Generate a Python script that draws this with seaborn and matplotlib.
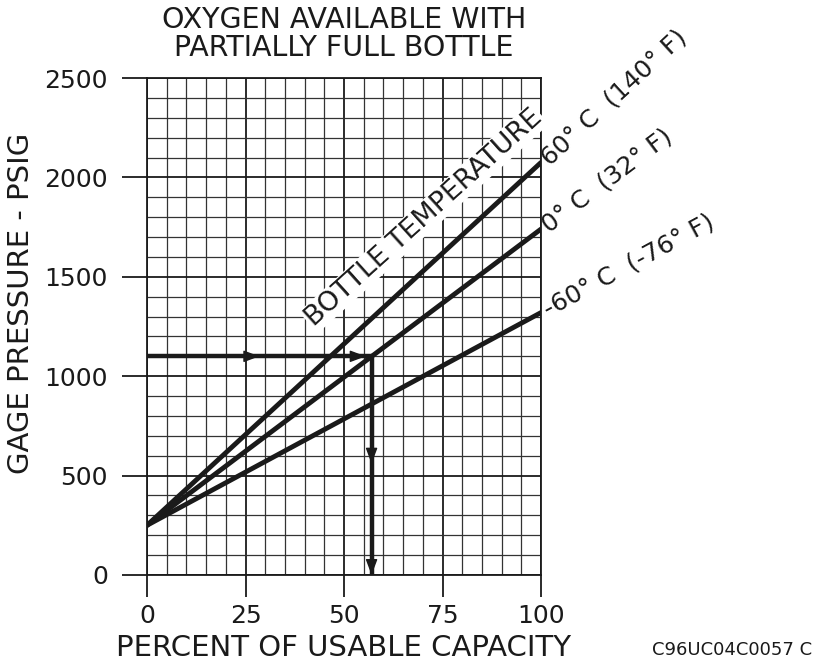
import numpy as np
import pandas as pd
import matplotlib
matplotlib.use("Agg")
import matplotlib.pyplot as plt
import seaborn as sns

# Oxygen bottle chart: gauge pressure vs usable capacity per bottle temperature
pct = [0, 100]
temps = ["60° C  (140° F)", "0° C  (32° F)", "-60° C  (-76° F)"]
psig_start = [250, 250, 250]
psig_end = [2075, 1740, 1320]

# worked example (1100 psig at 0 °C -> ~57 %)
ex_pct = [0, 57, 57]
ex_psig = [1100, 1100, 0]
head_pct = [28.5, 55.5, 57, 57]
head_psig = [1100, 1100, 560, 0]
head_dir = ["right", "right", "down", "down"]

x_ticks = [0, 25, 50, 75, 100]
y_ticks = [0, 500, 1000, 1500, 2000, 2500]

ink = "#1a1a1a"

sns.set_theme(style="ticks")
plt.rcParams["font.family"] = ["DejaVu Sans"]
plt.rcParams["text.color"] = ink
plt.rcParams["axes.labelcolor"] = ink

rows = []
for name, y0, y1 in zip(temps, psig_start, psig_end):
    rows.append({"temp": name, "pct": pct[0], "psig": y0})
    rows.append({"temp": name, "pct": pct[1], "psig": y1})
df = pd.DataFrame(rows)

fig = plt.figure(figsize=(8.16, 6.68), dpi=100)
ax = fig.add_axes([147 / 816, 93 / 668, 394 / 816, 497 / 668])

ax.set_xlim(0, 100)
ax.set_ylim(0, 2500)
ax.set_xticks(x_ticks)
ax.set_yticks(y_ticks)
ax.set_xticks(np.arange(0, 101, 5), minor=True)
ax.set_yticks(np.arange(0, 2501, 100), minor=True)
ax.grid(which="major", color=ink, linewidth=1.3)
ax.grid(which="minor", color="#333333", linewidth=0.9)
ax.set_axisbelow(True)
ax.tick_params(axis="x", which="major", length=16, width=1.3, color=ink, pad=5, labelsize=18, labelcolor=ink)
ax.tick_params(axis="y", which="major", length=18, width=1.3, color=ink, pad=10, labelsize=18, labelcolor=ink)
ax.tick_params(which="minor", length=0)
for s in ax.spines.values():
    s.set_color(ink)
    s.set_linewidth(1.3)

sns.lineplot(data=df, x="pct", y="psig", hue="temp", palette=[ink] * 3,
             linewidth=3.5, legend=False, ax=ax)

# example path with arrowheads
ax.plot(ex_pct, ex_psig, color=ink, linewidth=3.2, solid_joinstyle="miter")
for hx, hy, d in zip(head_pct, head_psig, head_dir):
    off = (-9, 0) if d == "right" else (0, 9)
    ax.annotate("", xy=(hx, hy), xytext=off, textcoords="offset points",
                arrowprops=dict(arrowstyle="-|>,head_length=0.8,head_width=0.3",
                                color=ink, lw=1, shrinkA=0, shrinkB=0),
                annotation_clip=False)

# temperature labels along each line
rots = []
for name, y0, y1 in zip(temps, psig_start, psig_end):
    ang = np.degrees(np.arctan2(y1 - y0, pct[1] - pct[0]))
    rot = ax.transData.transform_angles(np.array([ang]), np.array([[pct[1], y1]]))[0]
    rots.append(rot)
    ax.annotate(name, xy=(pct[1], y1), xytext=(3, 1), textcoords="offset points",
                rotation=rot, rotation_mode="anchor", ha="left", va="center",
                fontsize=18, annotation_clip=False)

ax.text(70.3, 1796, "BOTTLE TEMPERATURE", rotation=rots[0] - 0.5, rotation_mode="anchor",
        ha="center", va="center", fontsize=19.5,
        bbox=dict(facecolor="white", edgecolor="none", pad=1.0))

ax.set_xlabel("PERCENT OF USABLE CAPACITY", fontsize=21, labelpad=4)
ax.set_ylabel("GAGE PRESSURE - PSIG", fontsize=21)
ax.yaxis.set_label_coords(-0.285, 0.547)
ax.set_title("OXYGEN AVAILABLE WITH\nPARTIALLY FULL BOTTLE", fontsize=20.5,
             pad=16, linespacing=1.0, color=ink)

fig.text(812 / 816, 1 - 650 / 668, "C96UC04C0057 C", ha="right", va="center", fontsize=13)

fig.savefig("out.png", dpi=100)
